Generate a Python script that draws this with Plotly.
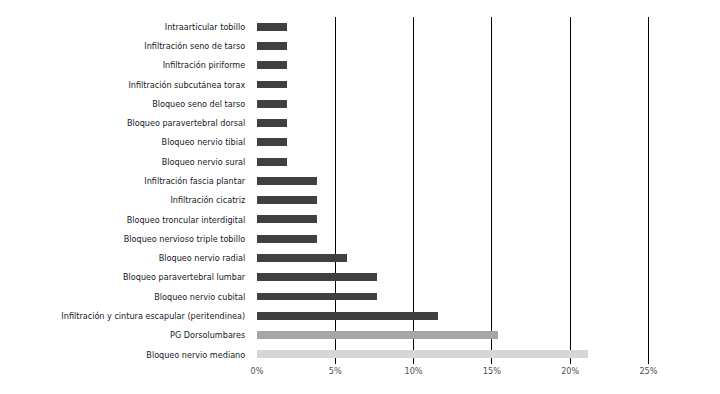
import plotly.graph_objects as go

categories = [
    "Intraarticular tobillo",
    "Infiltración seno de tarso",
    "Infiltración piriforme",
    "Infiltración subcutánea torax",
    "Bloqueo seno del tarso",
    "Bloqueo paravertebral dorsal",
    "Bloqueo nervio tibial",
    "Bloqueo nervio sural",
    "Infiltración fascia plantar",
    "Infiltración cicatriz",
    "Bloqueo troncular interdigital",
    "Bloqueo nervioso triple tobillo",
    "Bloqueo nervio radial",
    "Bloqueo paravertebral lumbar",
    "Bloqueo nervio cubital",
    "Infiltración y cintura escapular (peritendinea)",
    "PG Dorsolumbares",
    "Bloqueo nervio mediano",
]
values = [1.92, 1.92, 1.92, 1.92, 1.92, 1.92, 1.92, 1.92,
          3.85, 3.85, 3.85, 3.85, 5.77, 7.69, 7.69, 11.54, 15.38, 21.15]
colors = ["#404040"] * 16 + ["#a6a6a6", "#d6d6d6"]
tick_vals = [0, 5, 10, 15, 20, 25]
tick_text = ["0%", "5%", "10%", "15%", "20%", "25%"]

fig = go.Figure(go.Bar(
    x=values, y=categories, orientation="h",
    marker=dict(color=colors, line=dict(width=0)),
    width=0.41,
))

fig.update_layout(
    width=720, height=394,
    margin=dict(l=249, r=78, t=9, b=38),
    paper_bgcolor="white", plot_bgcolor="white",
    font=dict(family="Liberation Sans Narrow, DejaVu Sans Condensed, sans-serif", size=9, color="#15181f"),
    showlegend=False,
    bargap=0,
)
fig.update_xaxes(
    range=[0, 25.1], tickvals=tick_vals, ticktext=tick_text,
    showgrid=True, gridcolor="#000000", gridwidth=1.3,
    zeroline=False, showline=False, ticks="", ticklen=0,
    tickfont=dict(size=9, color="#505050"),
)
fig.update_yaxes(
    showgrid=False, zeroline=False, showline=False,
    ticks="outside", ticklen=9, tickcolor="rgba(0,0,0,0)",
    range=[17.5, -0.5],
)

fig.write_html("out.html")
